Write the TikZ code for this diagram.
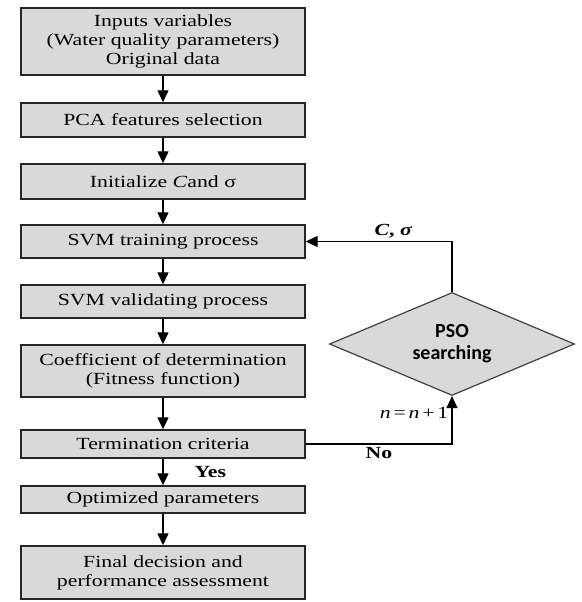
\documentclass[tikz,border=0pt]{standalone}
\usepackage{fontspec}
\setmainfont{Liberation Serif}[FakeStretch=1.28]
\newfontfamily\psofont{Carlito}
\usetikzlibrary{shapes.geometric,arrows.meta,positioning}
\definecolor{boxgray}{RGB}{217,217,217}
\tikzset{
  box/.style={draw=black!85,fill=boxgray,line width=0.7pt,minimum width=142pt,align=center,inner sep=1pt,font=\fontsize{8.5}{9.5}\selectfont},
  arr/.style={-{Triangle[length=6pt,width=5.5pt]},line width=0.65pt},
  lbl/.style={inner sep=1.5pt,font=\fontsize{8.5}{9.5}\selectfont},
}
\begin{document}
\begin{tikzpicture}[x=0.5pt,y=-0.5pt]
\useasboundingbox (0,0) rectangle (582,602);
\node [box,minimum height=33.5pt](Inputs) at (163,41.5){Inputs variables\\(Water quality parameters)\\Original data};
\node [box,minimum height=17pt](PCA) at (163,120){PCA features selection};
\node [box,minimum height=17.5pt](Init) at (163,181.5){Initialize \textit{C}and σ};
\node [box,minimum height=16.5pt](Train) at (163,241.5){SVM training process};
\node [box,minimum height=16.5pt](Valid) at (163,301.5){SVM validating process};
\node [box,minimum height=26pt](Fit) at (163,371){Coefficient of determination\\(Fitness function)};
\node [box,minimum height=14pt](Term) at (163,444){Termination criteria};
\node [box,minimum height=13.5pt](Opt) at (163,499.5){Optimized parameters};
\node [box,minimum height=26.5pt](Final) at (163,572.5){Final decision and\\performance assessment};
\node [diamond,draw=black!75,fill=boxgray,line width=0.6pt,minimum width=122.5pt,minimum height=51.5pt,aspect=2.4,inner sep=0pt,align=center,font=\psofont\bfseries\fontsize{10}{11}\selectfont](PSO) at (452,344){PSO\\searching};
% main flow
\draw [arr](Inputs) -- (PCA);
\draw [arr](PCA) -- (Init);
\draw [arr](Init) -- (Train);
\draw [arr](Train) -- (Valid);
\draw [arr](Valid) -- (Fit);
\draw [arr](Fit) -- (Term);
\draw [arr](Term) -- node[right=14pt,lbl](LblYes){\textbf{Yes}} (Opt);
\draw [arr](Opt) -- (Final);
% PSO loop
\draw [arr](Term.east) -| node[pos=0.25,below,lbl](LblNo){\textbf{No}} node[pos=0.82,left,lbl](LblN){\textit{n}\,=\,\textit{n}\,+\,1} (PSO.south);
\draw [arr](PSO.north) |- node[pos=0.7,above,lbl](LblCS){\textbf{\textit{C}, \textit{σ}}} (Train.east);
\end{tikzpicture}
\end{document}
